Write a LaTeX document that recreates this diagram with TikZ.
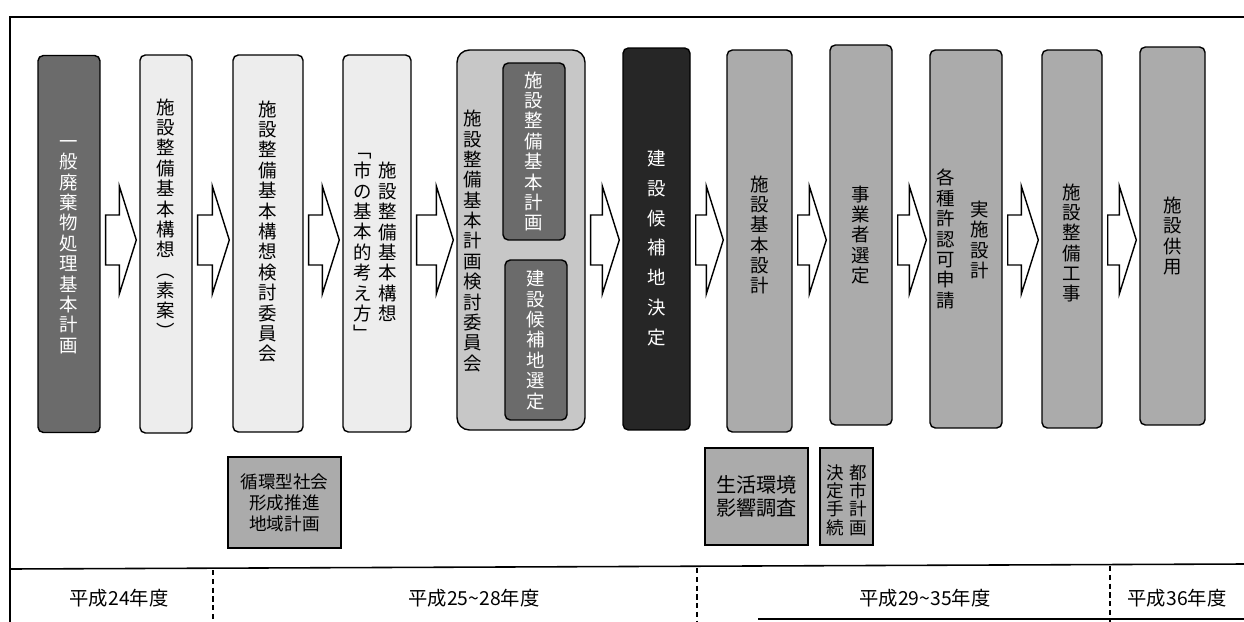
\documentclass[tikz,border=0pt]{standalone}
\usepackage{fontspec}
\newfontfamily\jp{Noto Sans CJK JP}
\usetikzlibrary{calc,positioning}

\tikzset{
  stage/.style={draw=black, line width=0.8pt, rounded corners=3pt, inner sep=0pt,
    align=center, font=\jp\fontsize{10.5}{11.6}\selectfont},
  light/.style={stage, fill=black!7},
  mid/.style={stage, fill=black!33},
  dark/.style={stage, fill=black!58, text=white},
  darkest/.style={stage, fill=black!85, text=white},
  vtext/.style={inner sep=0pt, align=center, font=\jp\fontsize{10.5}{11.6}\selectfont},
  sidebox/.style={draw=black, line width=0.8pt, fill=black!33, inner sep=0pt, align=center},
  flowarrow/.style={draw=black, fill=white, line width=0.8pt, line join=miter},
  year/.style={font=\jp\fontsize{11}{13}\selectfont},
  divider/.style={line width=0.8pt, densely dashed}
}

\begin{document}
\begin{tikzpicture}[x=0.02cm, y=-0.02cm]
\useasboundingbox (0,0) rectangle (1244,622);
\fill[white] (0,0) rectangle (1244,622);

% frame and time line
\draw[line width=0.8pt] (1244,17) -- (10,17) -- (10,622);
\draw[line width=0.9pt] (10,569) -- (1244,564);
\draw[line width=0.8pt] (758,619) -- (1244,619);
\draw[divider] (213,570) -- (213,622);
\draw[divider] (697,568) -- (697,622);
\draw[divider] (1110,566) -- (1110,622);

% stages
\node[dark, minimum width=1.24cm, minimum height=7.54cm] (haikibutsu) at (69,244) {};
\node[vtext, text=white] at (69,247) {一\\般\\廃\\棄\\物\\処\\理\\基\\本\\計\\画};
\node[light, minimum width=1.04cm, minimum height=7.56cm] (soan) at (166,244) {};
\node[vtext] at (166,218.5) {施\\設\\整\\備\\基\\本\\構\\想\\︵\\素\\案\\︶};
\node[light, minimum width=1.40cm, minimum height=7.54cm] (kousouiinkai) at (268,243.5) {};
\node[vtext] at (268,231.5) {施\\設\\整\\備\\基\\本\\構\\想\\検\\討\\委\\員\\会};
\node[light, minimum width=1.36cm, minimum height=7.54cm] (kangaekata) at (377,243.5) {};
\node[vtext] at (388,242) {施\\設\\整\\備\\基\\本\\構\\想};
\node[vtext] at (363,247) {﹁\\市\\の\\基\\本\\的\\考\\え\\方\\﹂};

\node[stage, fill=black!22, rounded corners=7pt, minimum width=2.56cm, minimum height=7.60cm]
  (keikakuiinkai) at (521,240) {};
\node[vtext] at (473,241) {施\\設\\整\\備\\基\\本\\計\\画\\検\\討\\委\\員\\会};
\node[dark, minimum width=1.24cm, minimum height=3.54cm] (kihonkeikaku) at (534,151.5)
  {施\\設\\整\\備\\基\\本\\計\\画};
\node[dark, minimum width=1.24cm, minimum height=3.20cm] (kouhochi) at (536,340)
  {建\\設\\候\\補\\地\\選\\定};

\node[darkest, minimum width=1.34cm, minimum height=7.64cm] (kettei) at (656.5,239) {};
\node[vtext, text=white, font=\jp\fontsize{10.5}{17}\selectfont] at (656.5,248)
  {建\\設\\候\\補\\地\\決\\定};
\node[mid, minimum width=1.30cm, minimum height=7.64cm] (kihonsekkei) at (759.5,241) {};
\node[vtext] at (759.5,235) {施\\設\\基\\本\\設\\計};
\node[mid, minimum width=1.24cm, minimum height=7.60cm] (jigyousha) at (861,235)
  {事\\業\\者\\選\\定};
\node[mid, minimum width=1.44cm, minimum height=7.56cm] (jisshi) at (966,239) {};
\node[vtext] at (980,240) {実\\施\\設\\計};
\node[vtext] at (946,239) {各\\種\\許\\認\\可\\申\\請};
\node[mid, minimum width=1.20cm, minimum height=7.56cm] (kouji) at (1072,239) {};
\node[vtext] at (1072,243) {施\\設\\整\\備\\工\\事};
\node[mid, minimum width=1.30cm, minimum height=7.56cm] (kyouyou) at (1172.5,236)
  {施\\設\\供\\用};

% arrows between stages
\coordinate (axis) at (0,240);
\foreach \a/\b in {haikibutsu/soan, soan/kousouiinkai, kousouiinkai/kangaekata,
    kangaekata/keikakuiinkai, keikakuiinkai/kettei, kettei/kihonsekkei,
    kihonsekkei/jigyousha, jigyousha/jisshi, jisshi/kouji, kouji/kyouyou}
{
  \coordinate (t) at (\a.east |- axis);
  \coordinate (h) at (\b.west |- axis);
  \draw[flowarrow] ($(t)+(5,-25)$) -- ($(h)+(-20,-25)$) -- ($(h)+(-20,-54)$)
    -- ($(h)+(-3,0)$) -- ($(h)+(-20,54)$) -- ($(h)+(-20,25)$) -- ($(t)+(5,25)$) -- cycle;
}

% side tasks
\node[sidebox, minimum width=2.26cm, minimum height=1.82cm,
  font=\jp\fontsize{10}{12}\selectfont] (junkan) at (284.5,502.5)
  {循環型社会\\形成推進\\地域計画};
\node[sidebox, minimum width=2.06cm, minimum height=1.94cm,
  font=\jp\fontsize{11.5}{13}\selectfont] (seikatsu) at (756.5,496.5)
  {生活環境\\影響調査};
\node[sidebox, minimum width=1.06cm, minimum height=1.94cm] (toshi) at (846.5,496.5) {};
\node[vtext, font=\jp\fontsize{10}{10.4}\selectfont] at (858,500) {都\\市\\計\\画};
\node[vtext, font=\jp\fontsize{10}{10.4}\selectfont] at (835,500) {決\\定\\手\\続};

% fiscal years
\node[year] (fy24) at (119,598) {平成24年度};
\node[year] (fy25) at (474,598) {平成25\textasciitilde28年度};
\node[year] (fy29) at (925,598) {平成29\textasciitilde35年度};
\node[year] (fy36) at (1177,598) {平成36年度};
\end{tikzpicture}
\end{document}
